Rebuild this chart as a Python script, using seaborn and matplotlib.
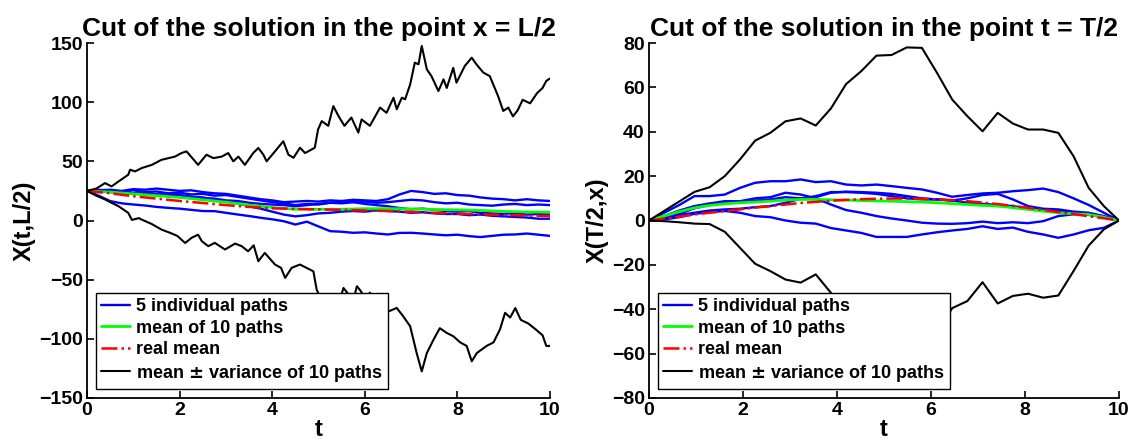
import numpy as np
import pandas as pd
import matplotlib
matplotlib.use("Agg")
import matplotlib.pyplot as plt
import seaborn as sns

# ---------------- left panel: cut at x = L/2 ----------------
t_paths = np.arange(0, 10.001, 0.25)

path_1 = [25, 25.5, 26, 25, 26.5, 26, 27, 26, 25, 25.5, 24, 23, 22.5, 21, 19.5, 18, 17, 15.5, 16, 16.5,
          16, 17, 16.5, 17.5, 17, 16.5, 18, 22, 25, 24, 22.5, 23, 21.5, 21, 19.5, 18.5, 18, 17, 18, 17, 16.5]
path_2 = [25, 26, 25, 24.5, 25.5, 24, 24.5, 23, 23.5, 22, 22.5, 21, 21.5, 20, 18.5, 17, 15.5, 14.5, 13, 14,
          13.5, 15, 16, 15.5, 16, 15, 15.5, 16.5, 17.5, 17, 15.5, 14.5, 15, 13.5, 13, 12.5, 13.5, 14, 13, 13.5, 13]
path_3 = [25, 24, 24.5, 23.5, 22.5, 23, 22, 21, 21.5, 20, 19, 18.5, 17, 16.5, 15, 14, 13.5, 13, 12, 13,
          14, 15, 14.5, 15.5, 14, 13, 12, 10.5, 9.5, 10, 9, 8, 7.5, 8, 6.5, 6, 5.5, 6.5, 5, 5.5, 5]
path_4 = [25, 25, 24, 24.5, 23, 23.5, 22, 22.5, 21, 20, 19.5, 17.5, 16, 14.5, 12, 10, 7.5, 5, 3.5, 4.5,
          6, 6.5, 7.5, 8, 7.5, 8.5, 8, 7.5, 6.5, 7, 6, 5.5, 5.5, 4.5, 5, 4, 3.5, 3, 2.5, 1.5, 1.5]
path_5 = [25, 21, 16.4, 14.5, 13.5, 12.7, 11.5, 10.7, 10, 9, 8, 7.9, 6.5, 5.1, 3.8, 2.3, 1, -0.6, -3.4, -1,
          -5, -9, -9.5, -10.4, -10, -11, -11.8, -10.5, -10.4, -11, -11.8, -12.5, -12, -13.2, -14, -13, -12,
          -11.8, -11, -12, -13]

t_means = np.arange(0, 10.001, 0.5)
mean_10_left = [25, 24, 22.5, 21, 19.5, 17.5, 15.5, 13, 11, 9.5, 9.5, 9.5, 10, 10, 9.8, 9.3, 9, 8.5, 7.7, 7.2, 7]
real_mean_left = [25, 23, 20.5, 18.5, 16.5, 14.8, 13, 11.5, 10.3, 9.8, 9.4, 9, 8.5, 8, 7.3, 6.5, 5.7, 5.2, 4.7,
                  4.2, 3.8]

t_upper = [0, 0.2, 0.39, 0.53, 0.68, 0.89, 0.93, 1.04, 1.18, 1.4, 1.61, 1.9, 2.04, 2.15, 2.4, 2.58, 2.73,
           2.91, 3.05, 3.16, 3.27, 3.41, 3.59, 3.7, 3.81, 3.88, 4.06, 4.24, 4.35, 4.46, 4.6, 4.71, 4.92, 4.99,
           5.07, 5.21, 5.32, 5.43, 5.56, 5.71, 5.86, 5.93, 6.11, 6.33, 6.47, 6.62, 6.69, 6.8, 6.87, 6.98,
           7.08, 7.16, 7.23, 7.34, 7.44, 7.59, 7.7, 7.77, 7.91, 7.98, 8.16, 8.31, 8.41, 8.56, 8.7, 8.88,
           8.99, 9.1, 9.2, 9.3, 9.41, 9.57, 9.72, 9.84, 9.92, 10]
upper_left = [25, 27, 31.6, 28.8, 33, 38.6, 42.9, 41.5, 44.3, 47, 51.3, 54, 57, 58.4, 47, 55.6, 52.7, 54,
              57, 50, 54, 47, 57, 61.3, 55.6, 50, 58.4, 67, 55.6, 53, 61.5, 57, 61.5, 76.9, 84, 80, 96.7,
              88.4, 80, 87, 74.3, 85.4, 80, 95.4, 91, 103.8, 94, 103.8, 102.4, 115, 133.4, 132, 147.5,
              127.7, 122, 109.4, 119.3, 112, 129, 116.5, 130.6, 137.6, 132, 125, 122, 105, 92.6, 95.4, 88,
              93, 102, 99, 107.6, 112, 118, 120]

t_lower = [0, 0.2, 0.39, 0.5, 0.68, 0.89, 0.97, 1.12, 1.18, 1.4, 1.61, 1.8, 1.95, 2.12, 2.26, 2.4, 2.48,
           2.62, 2.76, 2.98, 3.2, 3.34, 3.48, 3.6, 3.7, 3.84, 4.06, 4.19, 4.28, 4.42, 4.6, 4.67, 4.89, 4.96,
           5.05, 5.2, 5.33, 5.45, 5.54, 5.64, 5.76, 5.83, 5.92, 6.0, 6.11, 6.2, 6.31, 6.45, 6.52, 6.69,
           6.83, 6.98, 7.12, 7.23, 7.34, 7.48, 7.62, 7.77, 7.91, 8.06, 8.2, 8.31, 8.42, 8.63, 8.78, 8.92,
           9.03, 9.14, 9.25, 9.37, 9.53, 9.69, 9.84, 9.92, 10]
lower_left = [25, 21, 17.8, 15.5, 12.1, 6.5, 0.5, 2, 0.8, -3, -7.7, -10.5, -13, -19, -14.6, -12, -17.5,
              -21.7, -18.9, -24.5, -19.5, -21.7, -26, -21, -34.4, -27.4, -37.2, -40, -48.5, -40, -37.2,
              -38.6, -43, -58.4, -66, -63, -76, -68, -57, -62, -66, -55.5, -60, -66, -61, -68, -76, -72,
              -76.7, -73.9, -81, -89.4, -112, -127.5, -112, -101, -91, -95, -97.8, -103, -106, -119, -112,
              -106, -103, -92, -78, -82, -74, -84, -87, -92, -97, -106, -106]

# ---------------- right panel: cut at t = T/2 ----------------
x_grid = np.linspace(0, 10, 32)

cut_1 = [0, 3.5, 7, 11, 11, 11.7, 14.7, 17, 17.7, 17.7, 18.5, 17.3, 17.7, 16.2, 15.8, 16.2, 15.5, 14.7,
         14, 12.5, 10.7, 11.5, 12.2, 12.5, 13.2, 13.7, 14.4, 12.8, 10, 7, 3.5, 0]
cut_2 = [0, 2, 4.5, 6.5, 7.7, 8.7, 8.7, 10, 10.5, 12.5, 11.7, 10, 7.2, 4.7, 3.5, 2, 0.9, 0, -1, -1.4,
         -1.5, -1.2, -0.5, -1.2, -0.8, -1.2, -0.3, 2, 2.8, 2.8, 1.5, 0]
cut_3 = [0, 0.5, 1.5, 3, 3.8, 4.3, 3.5, 2, 1.5, 0, -1, -1.4, -3.4, -4.5, -5.6, -7.4, -7.4, -7.4, -6.3,
         -5.3, -4.5, -3.8, -2.6, -3.8, -3.2, -5.1, -6.3, -7.8, -6.3, -4.4, -3.3, 0]
cut_4 = [0, 1.5, 3, 5.5, 7, 8.5, 8.5, 9, 9.5, 10.5, 10, 10.5, 12.5, 13, 12.8, 12.5, 12, 11, 10, 9.5, 9,
         10, 11.5, 12, 9.5, 6.5, 5.3, 5, 4, 3.5, 2, 0]
cut_5 = [0, 1, 2.5, 3.5, 4.5, 5, 5.3, 6, 6.5, 8, 9.8, 11, 12.8, 12.8, 12.5, 12, 11, 10, 9.5, 9.5, 9, 8,
         7.5, 7, 6.5, 5.5, 5, 4.5, 3.5, 2.5, 1.5, 0]
mean_10_right = [0, 2, 4, 5.7, 6.8, 7.5, 8, 8.3, 8.7, 9.2, 9.5, 9.5, 9.3, 9.2, 9, 8.8, 8.7, 8.5, 8.3, 8,
                 7.6, 7.2, 6.8, 6.5, 5.8, 5, 4.2, 3.5, 3, 2.7, 1.5, 0]
real_mean_right = [0, 0.8, 1.7, 2.7, 3.5, 4.2, 5, 5.8, 6.5, 7.2, 7.9, 8.4, 8.9, 9.3, 9.6, 9.8, 9.9, 9.9,
                   9.8, 9.5, 9.2, 8.7, 8.1, 7.4, 6.6, 5.7, 4.8, 3.8, 2.9, 1.9, 1, 0]
upper_right = [0, 4.3, 8.6, 12.9, 15, 20, 27.5, 36, 39.5, 44.7, 46, 42.8, 50.5, 61.5, 67.3, 74.3, 74.6,
               78, 77.8, 66.5, 54.5, 47, 40.2, 48.5, 43.7, 41, 41, 39.5, 29, 14.7, 6.5, 0]
lower_right = [0, -0.3, -0.8, -1.4, -1.6, -5.1, -12.3, -19.5, -22.8, -26.6, -28, -24.3, -32.6, -44.5,
               -50, -57, -57.6, -61, -61, -50.5, -39.5, -36.3, -27.8, -37.4, -34, -33, -34.8, -33.8,
               -22.8, -11.3, -4, 0]

labels = ["5 individual paths", "mean of 10 paths", "real mean", "mean $\\pm$ variance of 10 paths"]

sns.set_style("ticks")
plt.rcParams['font.family'] = ['Liberation Sans', 'DejaVu Sans']
plt.rcParams['font.weight'] = 'bold'
plt.rcParams['axes.titleweight'] = 'bold'
plt.rcParams['axes.labelweight'] = 'bold'
plt.rcParams['mathtext.default'] = 'bf'
for k in ['text.color', 'axes.labelcolor', 'xtick.color', 'ytick.color', 'axes.edgecolor']:
    plt.rcParams[k] = 'black'


def line(ax, x, y, **kw):
    sns.lineplot(x=x, y=y, ax=ax, sort=False, estimator=None, **kw)


fig = plt.figure(figsize=(11.36, 4.46), dpi=100)
ax1 = fig.add_axes([87 / 1136, 48 / 446, 463 / 1136, 355 / 446])
ax2 = fig.add_axes([649 / 1136, 48 / 446, 470 / 1136, 355 / 446])

panels = [
    (ax1, t_paths, [path_1, path_2, path_3, path_4, path_5], t_means, mean_10_left, real_mean_left,
     (t_upper, upper_left), (t_lower, lower_left), (-150, 150), np.arange(-150, 151, 50),
     "Cut of the solution in the point x = L/2", "X(t,L/2)"),
    (ax2, x_grid, [cut_1, cut_2, cut_3, cut_4, cut_5], x_grid, mean_10_right, real_mean_right,
     (x_grid, upper_right), (x_grid, lower_right), (-80, 80), np.arange(-80, 81, 20),
     "Cut of the solution in the point t = T/2", "X(T/2,x)"),
]

for ax, xp, paths, xm, mean10, realm, up, lo, ylim, yticks, title, ylab in panels:
    for i, p in enumerate(paths):
        line(ax, xp, p, color="#0000ff", linewidth=1.7, label=labels[0] if i == 0 else None)
    line(ax, xm, mean10, color="#00ff00", linewidth=2.0, label=labels[1])
    line(ax, xm, realm, color="#ff0000", linewidth=1.8, linestyle="-.", label=labels[2])
    line(ax, up[0], up[1], color="black", linewidth=1.5, label=labels[3])
    line(ax, lo[0], lo[1], color="black", linewidth=1.5)

    ax.set_xlim(0, 10)
    ax.set_ylim(*ylim)
    ax.set_xticks(np.arange(0, 11, 2))
    ax.set_yticks(yticks)
    ax.tick_params(direction="in", length=5, width=1.2, labelsize=14, pad=3)
    for s in ["left", "bottom"]:
        ax.spines[s].set_linewidth(1.3)
    sns.despine(ax=ax)
    ax.set_title(title, fontsize=19, pad=5)
    ax.set_xlabel("t", fontsize=17, labelpad=-1)
    ax.set_ylabel(ylab, fontsize=17, labelpad=2)

    h, l = ax.get_legend_handles_labels()
    leg = ax.legend(h, l, loc="lower left", fontsize=13, frameon=True, fancybox=False,
                    edgecolor="black", framealpha=1, borderaxespad=0.5, handlelength=1.6,
                    handletextpad=0.3, labelspacing=0.25, borderpad=0.3)
    leg.get_frame().set_linewidth(1.0)

fig.savefig("out.png", dpi=100)
